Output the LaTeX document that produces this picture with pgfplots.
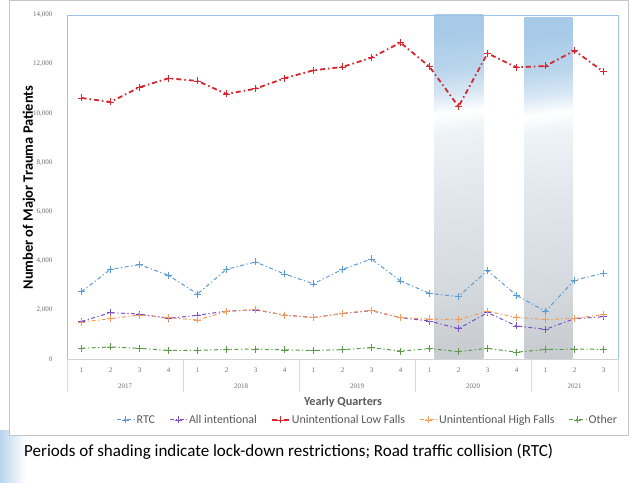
\documentclass[border=0pt]{standalone}
\usepackage{fontspec}
\setmainfont{Carlito}
\newfontfamily\tickfont{Liberation Serif}
\usepackage{pgfplots}
\pgfplotsset{compat=1.18}
\definecolor{rtc}{HTML}{5B9BD5}
\definecolor{intent}{HTML}{7B4FC4}
\definecolor{lowf}{HTML}{D7262E}
\definecolor{highf}{HTML}{F39B5A}
\definecolor{other}{HTML}{5A9A48}
\definecolor{axisblue}{HTML}{9DC3E6}
\definecolor{ticktext}{HTML}{6E6E6E}
\definecolor{legtext}{HTML}{595959}
\definecolor{bandblue}{HTML}{A7CAE8}
\definecolor{bandgray}{HTML}{C9CDD1}
\definecolor{bandg2}{HTML}{D3D8DD}
\definecolor{bandlight}{HTML}{E2E8EE}
\definecolor{bandl2}{HTML}{EEF3F7}
\definecolor{bandb2}{HTML}{D8E7F4}
\definecolor{bandb3}{HTML}{B9D5EC}
\pgfdeclareverticalshading{lockdown}{100bp}{color(0bp)=(bandgray); color(25bp)=(bandgray); color(32.5bp)=(bandg2); color(50bp)=(bandlight); color(59bp)=(bandl2); color(62bp)=(white); color(65bp)=(bandb2); color(69bp)=(bandb3); color(75bp)=(bandblue); color(100bp)=(bandblue)}
\tikzset{yearlab/.style={font=\tickfont\fontsize{7bp}{8bp}\selectfont, text=ticktext, yshift=-27bp}}
\begin{document}
\begin{tikzpicture}
\path[use as bounding box] (0,0) rectangle (632bp,483bp);
\shade[left color=bandblue!80, right color=white] (0,0) -- (0,52bp) -- (26bp,52bp) -- (26bp,0) -- cycle;
\fill[white] (9bp,48bp) rectangle (628bp,482.5bp);
\draw[gray!45, line width=0.8bp] (9bp,48bp) rectangle (628bp,482.5bp);
\begin{axis}[
  at={(67bp,124bp)}, anchor=south west, scale only axis,
  width=551bp, height=344bp,
  xmin=-0.5, xmax=18.5, ymin=0, ymax=14000,
  axis line style={draw=none},
  clip=false,
  xtick={0,...,18},
  xticklabels={1,2,3,4,1,2,3,4,1,2,3,4,1,2,3,4,1,2,3},
  ytick={0,2000,...,14000},
  scaled y ticks=false,
  /pgf/number format/fixed,
  /pgf/number format/1000 sep={,},
  /pgf/number format/assume math mode=true,
  tick label style={font=\tickfont\fontsize{7bp}{8bp}\selectfont, text=ticktext},
  xticklabel style={yshift=-5bp},
  yticklabel style={xshift=-11bp},
  major tick length=0pt,
  xtick pos=bottom, ytick pos=left,
  extra x ticks={-0.5,3.5,7.5,11.5,15.5,18.5},
  extra x tick labels={},
  extra x tick style={major tick length=33bp, tick align=outside, tick style={gray!30, line width=0.6bp}},
  legend style={at={(0.546,-0.177)}, anchor=center, legend columns=-1, draw=none, fill=none,
    font=\fontsize{12bp}{14bp}\selectfont, text=legtext,
    /tikz/every even column/.append style={column sep=12bp}},
]
\addplot[draw=none, shade, shading=lockdown, shading angle=7, mark=none, forget plot]
  coordinates {(12.17,0) (13.86,0) (13.86,14000) (12.17,14000)} -- cycle;
\addplot[draw=none, shade, shading=lockdown, shading angle=7, mark=none, forget plot]
  coordinates {(15.28,0) (16.93,0) (16.93,13880) (15.28,13880)} -- cycle;
\draw[axisblue, line width=0.8bp] (rel axis cs:0,0) -- (rel axis cs:0,1) -- (rel axis cs:1,1) -- (rel axis cs:1,0);
\draw[gray!35, line width=0.6bp] (rel axis cs:0,0) -- (rel axis cs:1,0);

\addplot[rtc, line width=1bp, dash pattern=on 4bp off 2.5bp on 1.2bp off 2.5bp,
  mark=+, mark size=3.5bp, mark options={solid, rtc, line width=0.6bp}] coordinates {
(0,2740) (1,3650) (2,3840) (3,3405) (4,2645) (5,3650) (6,3950) (7,3460) (8,3060) (9,3650)
(10,4070) (11,3175) (12,2670) (13,2540) (14,3600) (15,2590) (16,1940) (17,3215) (18,3490)};
\addlegendentry{RTC}
\addplot[intent, line width=1bp, dash pattern=on 4bp off 2.5bp on 1.2bp off 2.5bp,
  mark=+, mark size=3.5bp, mark options={solid, intent, line width=0.6bp}] coordinates {
(0,1530) (1,1885) (2,1830) (3,1655) (4,1780) (5,1950) (6,2000) (7,1790) (8,1690) (9,1850)
(10,1967) (11,1680) (12,1545) (13,1235) (14,1885) (15,1345) (16,1210) (17,1640) (18,1720)};
\addlegendentry{All intentional}
\addplot[lowf, line width=1.8bp, dash pattern=on 5bp off 3bp on 1.5bp off 3bp,
  mark=+, mark size=3.5bp, mark options={solid, lowf, line width=0.6bp}] coordinates {
(0,10623) (1,10460) (2,11058) (3,11424) (4,11315) (5,10785) (6,11000) (7,11424) (8,11750) (9,11885)
(10,12265) (11,12875) (12,11897) (13,10270) (14,12440) (15,11870) (16,11925) (17,12550) (18,11690)};
\addlegendentry{Unintentional Low Falls}
\addplot[highf, line width=1bp, dash pattern=on 4bp off 2.5bp on 1.2bp off 2.5bp,
  mark=+, mark size=3.5bp, mark options={solid, highf, line width=0.6bp}] coordinates {
(0,1505) (1,1640) (2,1790) (3,1680) (4,1590) (5,1925) (6,2020) (7,1780) (8,1680) (9,1860)
(10,1980) (11,1680) (12,1630) (13,1600) (14,1940) (15,1695) (16,1600) (17,1655) (18,1805)};
\addlegendentry{Unintentional High Falls}
\addplot[other, line width=1bp, dash pattern=on 4bp off 2.5bp on 1.2bp off 2.5bp,
  mark=+, mark size=3.5bp, mark options={solid, other, line width=0.6bp}] coordinates {
(0,435) (1,490) (2,435) (3,350) (4,350) (5,390) (6,405) (7,370) (8,350) (9,380)
(10,460) (11,325) (12,420) (13,300) (14,435) (15,275) (16,390) (17,400) (18,395)};
\addlegendentry{Other}

\node[yearlab] at (axis cs:1.5,0) {2017};
\node[yearlab] at (axis cs:5.5,0) {2018};
\node[yearlab] at (axis cs:9.5,0) {2019};
\node[yearlab] at (axis cs:13.5,0) {2020};
\node[yearlab] at (axis cs:17,0) {2021};
\end{axis}
\node[rotate=90, font=\bfseries\fontsize{14.4bp}{16bp}\selectfont] at (29bp,295.5bp) {Number of Major Trauma Patients};
\node[font=\bfseries\fontsize{12.2bp}{14bp}\selectfont, text=legtext] at (343bp,81bp) {Yearly Quarters};
\node[anchor=west, font=\fontsize{17bp}{19bp}\selectfont, inner sep=0pt] at (24bp,31bp) {Periods of shading indicate lock-down restrictions; Road traffic collision (RTC)};
\end{tikzpicture}
\end{document}
